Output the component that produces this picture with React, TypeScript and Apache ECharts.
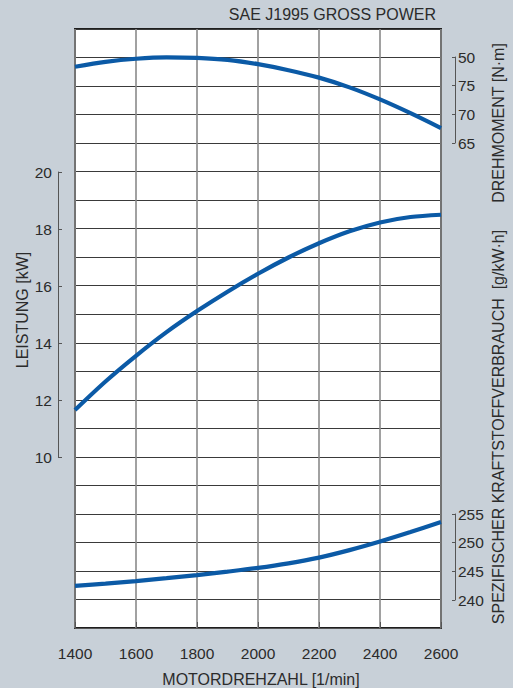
import React, { useEffect, useRef } from "react";
import * as echarts from "echarts";

const rpm = [1400, 1500, 1600, 1700, 1800, 1900, 2000, 2100, 2200, 2300, 2400, 2500, 2600];
const power = [11.65, 12.65, 13.55, 14.38, 15.12, 15.8, 16.43, 17.0, 17.5, 17.92, 18.23, 18.42, 18.5];
const torque = [78.3, 79.15, 79.7, 79.95, 79.85, 79.5, 78.75, 77.7, 76.4, 74.7, 72.6, 70.2, 67.6];
const bsfc = [242.45, 242.85, 243.3, 243.8, 244.35, 244.95, 245.6, 246.4, 247.4, 248.7, 250.2, 251.85, 253.6];

const torqueTicks = [65, 70, 75, 80];
const torqueTickLabels = ["65", "70", "75", "50"];

const titleText = "SAE J1995 GROSS POWER";
const xName = "MOTORDREHZAHL [1/min]";
const powerName = "LEISTUNG [kW]";
const torqueName = "DREHMOMENT [N\u00b7m]";
const bsfcName = "SPEZIFISCHER KRAFTSTOFFVERBRAUCH  [g/kW\u00b7h]";

const TEXT = "#2b2b2b";
const BLUE = "#0b5aa6";
const FONT = "Liberation Sans, Arial, sans-serif";

export default function App() {
  const ref = useRef<HTMLDivElement>(null);
  useEffect(() => {
    if (!ref.current) return;
    const chart = echarts.init(ref.current, null, { renderer: "svg" });
    const L = 75, R = 72;
    const gridBase = { left: L, right: R, containLabel: false, outerBoundsMode: "none" } as any;
    const hiddenX = (gi: number) => ({
      type: "value", gridIndex: gi, min: 1400, max: 2600, interval: 200, show: false,
    });
    const rightAxisCommon = {
      position: "right",
      offset: 14,
      axisLine: { show: true, lineStyle: { color: "#555", width: 1 } },
      axisTick: { show: true, inside: true, length: 3, lineStyle: { color: "#555" } },
      axisLabel: { color: TEXT, fontSize: 15.5, fontFamily: FONT, margin: 3 },
      splitLine: { show: false },
    };
    const lineSeries = (gi: number, vals: number[]) => ({
      type: "line",
      xAxisIndex: gi,
      yAxisIndex: gi,
      data: rpm.map((r, i) => [r, vals[i]]),
      smooth: 0.3,
      showSymbol: false,
      clip: false,
      lineStyle: { color: BLUE, width: 4.2 },
      z: 10,
    });
    chart.setOption({
      animation: false,
      backgroundColor: "#c8d0d8",
      textStyle: { fontFamily: FONT },
      grid: [
        { ...gridBase, top: 29, bottom: 60, show: true, backgroundColor: "#ffffff", borderColor: "#1e1e1e", borderWidth: 2 },
        { ...gridBase, top: 172, bottom: 688 - 457 },
        { ...gridBase, top: 57, bottom: 688 - 143 },
        { ...gridBase, top: 514, bottom: 688 - 600 },
      ],
      xAxis: [
        {
          type: "value", gridIndex: 0, min: 1400, max: 2600, interval: 200,
          offset: 14,
          axisLine: { show: true, lineStyle: { color: "#555", width: 1 } },
          axisTick: { show: true, inside: true, length: 6, lineStyle: { color: "#555" } },
          axisLabel: { color: TEXT, fontSize: 15.5, fontFamily: FONT, margin: 3, formatter: (v: number) => String(v) },
          splitLine: { show: true, lineStyle: { color: "#8a8a8a", width: 1.6 } },
        },
        hiddenX(1),
        hiddenX(2),
        hiddenX(3),
      ],
      yAxis: [
        {
          type: "value", gridIndex: 0, min: 0, max: 21, interval: 1,
          axisLine: { show: false }, axisTick: { show: false }, axisLabel: { show: false },
          splitLine: { show: true, lineStyle: { color: "#3a3a3a", width: 1.2 } },
        },
        {
          type: "value", gridIndex: 1, min: 10, max: 20, interval: 2,
          position: "left", offset: 17,
          axisLine: { show: true, lineStyle: { color: "#555", width: 1 } },
          axisTick: { show: true, inside: true, length: 4, lineStyle: { color: "#555" } },
          axisLabel: { color: TEXT, fontSize: 15.5, fontFamily: FONT, margin: 6 },
          splitLine: { show: false },
        },
        {
          ...rightAxisCommon,
          type: "value", gridIndex: 2, min: 65, max: 80, interval: 5,
          axisLabel: {
            ...rightAxisCommon.axisLabel,
            formatter: (v: number) => {
              const i = torqueTicks.indexOf(Math.round(v));
              return i >= 0 ? torqueTickLabels[i] : "";
            },
          },
        },
        {
          ...rightAxisCommon,
          type: "value", gridIndex: 3, min: 240, max: 255, interval: 5,
        },
      ],
      series: [lineSeries(1, power), lineSeries(2, torque), lineSeries(3, bsfc)],
      graphic: [
        {
          type: "text", x: 436, y: 14,
          style: { text: titleText, fill: TEXT, font: `16px ${FONT}`, textAlign: "right", textVerticalAlign: "middle" },
        },
        {
          type: "text", x: 261, y: 679,
          style: { text: xName, fill: TEXT, font: `16px ${FONT}`, textAlign: "center", textVerticalAlign: "middle" },
        },
        {
          type: "text", x: 22, y: 310, rotation: Math.PI / 2,
          style: { text: powerName, fill: TEXT, font: `16px ${FONT}`, textAlign: "center", textVerticalAlign: "middle" },
        },
        {
          type: "text", x: 498, y: 123, rotation: Math.PI / 2,
          style: { text: torqueName, fill: TEXT, font: `16px ${FONT}`, textAlign: "center", textVerticalAlign: "middle" },
        },
        {
          type: "text", x: 498, y: 427, rotation: Math.PI / 2,
          style: { text: bsfcName, fill: TEXT, font: `16px ${FONT}`, textAlign: "center", textVerticalAlign: "middle" },
        },
      ],
    });
    return () => chart.dispose();
  }, []);
  return (
    <div
      ref={ref}
      style={{ position: "fixed", left: 0, top: 0, width: 513, height: 688 }}
    />
  );
}
